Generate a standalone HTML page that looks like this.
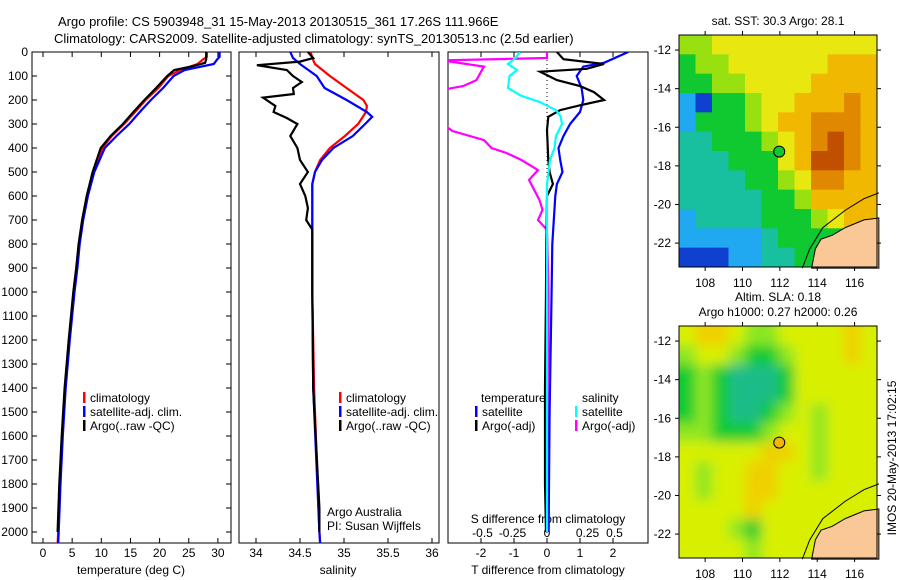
<!DOCTYPE html>
<html><head><meta charset="utf-8"><style>
body{margin:0;background:#fff;}
svg{display:block;font-family:"Liberation Sans",sans-serif;}
text{fill:#000;}
</style></head><body>
<svg id="c" width="900" height="580" viewBox="0 0 900 580" xmlns="http://www.w3.org/2000/svg">
<defs>
<filter id="blur" x="-10%" y="-10%" width="120%" height="120%"><feGaussianBlur stdDeviation="6"/></filter>
</defs>
<text x="58" y="26" font-size="13">Argo profile: CS 5903948_31 15-May-2013 20130515_361 17.26S 111.966E</text>
<text x="54" y="43" font-size="13">Climatology: CARS2009. Satellite-adjusted climatology: synTS_20130513.nc (2.5d earlier)</text>
<g id="g"></g>
</svg>
<script>
// ---- data ----
const depthTicks=[0,100,200,300,400,500,600,700,800,900,1000,1100,1200,1300,1400,1500,1600,1700,1800,1900,2000];
const tempTicks=[0,5,10,15,20,25,30];
const salTicks=[34,34.5,35,35.5,36];
const tdiffTicks=[-2,-1,0,1,2];
const sdiffTickLabels=["-0.5","-0.25","0","0.25","0.5"];
const sdiffTickVals=[-0.43,-0.23,0,0.27,0.45];

const tClimD=[0,20,30,50,75,100,150,200,250,300,350,400,500,600,700,800,900,1000,1200,1400,1600,1800,2000,2050];
const tClim=[28.1,28.1,27.5,26.5,23.5,21.5,19.8,17.6,15.8,13.9,11.8,10.2,8.6,7.6,6.8,6.2,5.8,5.3,4.5,3.8,3.3,2.9,2.6,2.5];
const tSatD=tClimD;
const tSat=[30.3,30.3,29.9,29.3,24.3,22.4,20.6,18.5,16.6,14.8,12.6,10.6,8.8,7.7,6.9,6.3,5.9,5.4,4.6,3.9,3.4,3.0,2.7,2.6];
const tArgoD=[0,30,45,60,75,100,150,200,250,300,350,400,500,600,700,800,900,1000,1200,1400,1600,1800,2000];
const tArgo=[28.0,28.0,27.8,25.5,22.5,21.3,19.4,17.4,15.5,13.7,11.6,9.9,8.5,7.5,6.7,6.1,5.7,5.2,4.4,3.7,3.2,2.8,2.5];

const sClimD=[0,25,50,100,150,200,225,250,300,350,400,450,500,550,700,1000,1400,2000,2050];
const sClim=[34.62,34.64,34.67,34.84,35.03,35.22,35.26,35.25,35.16,35.01,34.84,34.73,34.67,34.64,34.64,34.64,34.66,34.72,34.73];
const sSatD=[0,25,50,100,150,200,250,270,300,350,400,450,500,550,700,1000,1400,2000,2050];
const sSat=[34.39,34.42,34.5,34.69,34.78,35.03,35.26,35.32,35.24,35.1,34.88,34.75,34.67,34.64,34.64,34.64,34.65,34.72,34.73];
const sArgoD=[0,25,40,55,75,100,125,150,175,190,225,250,275,300,350,400,450,500,550,600,650,700,740,1000,1400,1900,2000];
const sArgo=[34.59,34.65,34.5,34.01,34.35,34.42,34.52,34.42,34.43,34.08,34.22,34.2,34.35,34.47,34.39,34.47,34.5,34.59,34.5,34.56,34.59,34.57,34.64,34.64,34.65,34.72,34.72];

const dTSatD=[0,45,61,100,150,200,250,300,350,400,450,500,550,600,800,1000,1500,2000];
const dTSat=[2.46,1.73,1.1,0.9,1.05,1.1,1.0,0.7,0.5,0.35,0.4,0.47,0.3,0.25,0.16,0.14,0.08,0.05];
const dTArgoD=[0,30,50,70,82,117,142,167,200,222,242,270,325,450,500,550,600,800,1000,1400,1800,2000];
const dTArgo=[0.3,0.5,1.73,1.2,-0.21,0.3,1.0,1.42,1.73,1.0,0.4,0.04,0.0,0.04,0.08,0.18,0.0,-0.02,-0.03,-0.06,-0.06,-0.03];
const dSSatD=[0,25,50,75,100,150,183,208,242,267,300,350,400,450,550,1000,2000];
const dSSat=[-0.18,-0.21,-0.26,-0.2,-0.25,-0.26,-0.17,-0.05,0.06,0.09,0.1,0.06,0.05,0.02,0.0,0.0,0.0];
const dSArgoD=[0,25,35,61,82,117,142,158,200,297,329,367,400,421,450,492,533,617,658,700,741,1000,2000];
const dSArgo=[0,0,-0.7,-0.42,-0.44,-0.47,-0.56,-0.7,-0.8,-0.7,-0.63,-0.42,-0.37,-0.27,-0.17,-0.06,-0.12,-0.05,-0.03,-0.06,0,0.01,0.01];

const sstGrid=[
[4,4,5,5,5,5,5,5,5,5,5,5],
[3,4,4,5,5,5,5,5,5,6,6,6],
[3,3,4,4,5,5,5,5,6,6,6,6],
[1,0,3,3,4,5,5,6,6,6,7,6],
[1,3,3,3,4,5,6,6,7,7,7,6],
[2,2,3,3,3,4,5,6,7,8,7,6],
[2,2,2,3,3,3,5,6,8,8,7,6],
[2,2,2,2,3,3,4,5,7,7,6,6],
[2,2,2,2,2,3,3,4,6,6,6,6],
[1,2,2,2,2,3,3,3,4,5,6,6],
[1,1,1,1,1,2,3,3,3,3,3,3],
[0,0,0,1,1,2,2,3,3,3,3,3]];
const slaGrid=[
[3,4,4,3,2,2,3,3,3,3,4,3],
[2,3,3,2,1,1,2,3,3,3,4,3],
[1,2,1,0,0,0,1,3,3,3,3,3],
[1,2,1,0,0,0,1,3,3,3,3,3],
[1,2,1,0,0,1,2,3,2,3,3,3],
[2,2,1,1,1,2,3,3,2,3,3,3],
[3,3,3,3,3,4,4,3,2,3,3,3],
[3,2,3,3,4,4,3,3,2,3,3,3],
[3,2,3,3,4,4,3,3,3,3,3,3],
[3,3,3,3,4,3,3,3,3,3,3,3],
[3,3,3,2,1,3,3,3,3,3,3,3],
[3,3,3,3,2,3,3,3,3,3,3,3]];
const lonTicks=[108,110,112,114,116];
const latTicks=[-12,-14,-16,-18,-20,-22];
const argoLon=111.966, argoLat=-17.26;
const landLon=[117.3,116.5,115.5,114.8,114.2,113.9,113.7,117.3];
const landLat=[-20.7,-20.8,-21.2,-21.6,-21.8,-22.3,-23.3,-23.3];
const contLon=[113.2,113.6,114.3,115.5,116.5,117.3];
const contLat=[-23.3,-22.3,-21.2,-20.3,-19.7,-19.4];

// ---- helpers ----
const NS="http://www.w3.org/2000/svg";
const G=document.getElementById('g');
function mk(tag,at,parent){const e=document.createElementNS(NS,tag);for(const k in at)e.setAttribute(k,at[k]);(parent||G).appendChild(e);return e;}
function txt(x,y,s,anchor,size,parent){const t=mk('text',{x:x,y:y,'font-size':size||12,'text-anchor':anchor||'start'},parent);t.textContent=s;return t;}
const PT=52,PB=543;
const yD=d=>PT+d*0.24;
const xT=t=>43+t*5.83;
const xS=s=>256+(s-34)*88;
const xdT=t=>547+t*33;
const xdS=s=>547+s*150;
const panels=[[32,231,'temperature-panel'],[239,439,'salinity-panel'],[448,648,'difference-panel']];
panels.forEach(p=>{const clipId='clip-'+p[2];const cp=mk('clipPath',{id:clipId});mk('rect',{x:p[0],y:PT,width:p[1]-p[0],height:PB-PT},cp);});

function line(xs,ds,fx,color,name,clip){
  const pts=xs.map((v,i)=>fx(v).toFixed(1)+','+yD(ds[i]).toFixed(1)).join(' ');
  const e=mk('polyline',{points:pts,fill:'none',stroke:color,'stroke-width':2.2,'clip-path':'url(#clip-'+clip+')'});
  
  
}

panels.forEach(p=>{
  const r=mk('rect',{x:p[0],y:PT,width:p[1]-p[0],height:PB-PT,fill:'none',stroke:'#000','stroke-width':1});
  
  
});
depthTicks.forEach(d=>{
  const t=txt(28,yD(d)+4,String(d),'end',12);
  
  
  mk('line',{x1:32,x2:37,y1:yD(d),y2:yD(d),stroke:'#000'});
  mk('line',{x1:226,x2:231,y1:yD(d),y2:yD(d),stroke:'#000'});
});
function xticks(vals,labels,fx,name){
  vals.forEach((v,i)=>{
    const x=fx(v);
    mk('line',{x1:x,x2:x,y1:PT,y2:PT+5,stroke:'#000'});
    mk('line',{x1:x,x2:x,y1:PB,y2:PB-5,stroke:'#000'});
    const t=txt(x,557,labels[i],'middle',12);
    
    
  });
}
xticks(tempTicks,tempTicks.map(String),xT,'temperature-tick-label');
xticks(salTicks,salTicks.map(String),xS,'salinity-tick-label');
xticks(tdiffTicks,tdiffTicks.map(String),xdT,'t-difference-tick-label');
sdiffTickVals.forEach((v,i)=>{
  const t=txt(xdS(v),537,sdiffTickLabels[i],'middle',12);
  
  
});
[['temperature (deg C)',131,'x-axis-title-temperature'],['salinity',338,'x-axis-title-salinity'],['T difference from climatology',548,'x-axis-title-t-difference']].forEach(a=>{
  const t=txt(a[1],574,a[0],'middle',12);
  
  
});
{const t=txt(548,523,'S difference from climatology','middle',12);

}
{const e=mk('line',{x1:547,x2:547,y1:PT,y2:PB,stroke:'#000','stroke-dasharray':'1,3'});

}

line(tClim,tClimD,xT,'#f00','temperature-climatology-line','temperature-panel');
line(tSat,tSatD,xT,'#00f','temperature-satellite-line','temperature-panel');
line(tArgo,tArgoD,xT,'#000','temperature-argo-line','temperature-panel');
line(sClim,sClimD,xS,'#f00','salinity-climatology-line','salinity-panel');
line(sSat,sSatD,xS,'#00f','salinity-satellite-line','salinity-panel');
line(sArgo,sArgoD,xS,'#000','salinity-argo-line','salinity-panel');
line(dSArgo,dSArgoD,xdS,'#f0f','s-diff-argo-line','difference-panel');
line(dTSat,dTSatD,xdT,'#00f','t-diff-satellite-line','difference-panel');
line(dTArgo,dTArgoD,xdT,'#000','t-diff-argo-line','difference-panel');
line(dSSat,dSSatD,xdS,'#0ff','s-diff-satellite-line','difference-panel');

function leg(x,y,color,label){
  const g=mk('g',{});
  
  
  mk('rect',{x:x,y:y-10,width:2.5,height:11,fill:color},g);
  txt(x+7,y,label,'start',12,g);
}
const legLabels=['climatology','satellite-adj. clim.','Argo(..raw -QC)'];
const legColors=['#f00','#00f','#000'];
[83,339].forEach(x=>legLabels.forEach((l,i)=>leg(x,402+i*14,legColors[i],l)));
{const t=txt(481,402,'temperature');}
{const t=txt(582,402,'salinity');}
leg(475,416,'#00f','satellite');leg(475,430,'#000','Argo(-adj)');
leg(575,416,'#0ff','satellite');leg(575,430,'#f0f','Argo(-adj)');
{const t=txt(327,516,'Argo Australia');}
{const t=txt(327,530,'PI: Susan Wijffels');}

// maps
const sstColors=['#1040d0','#20a8f0','#18c0a0','#10c830','#98e010','#e8e810','#f0b800','#e08800','#c05000'];
const slaColors=['#1cbc88','#10cc30','#8ee620','#d8f000','#f0d000'];
const LON0=106.6,LON1=117.2;
function drawMap(top,grid,colors,name,title,dotFill,smooth){
  const L=679,R=877,H=232,B=top+H;
  const latTop=-11.22,latBot=-23.24;
  const mx=lon=>L+(lon-LON0)/(LON1-LON0)*(R-L);
  const my=lat=>top+(lat-latTop)/(latBot-latTop)*H;
  const g=mk('g',{});
  
  
  const cp=mk('clipPath',{id:'clip-'+name});
  mk('rect',{x:L,y:top,width:R-L,height:H},cp);
  const cells=mk('g',{'clip-path':'url(#clip-'+name+')'},g);
  const inner=mk('g',smooth?{filter:'url(#blur)'}:{},cells);
  const cw=(R-L)/grid[0].length,ch=H/grid.length;
  const nr=grid.length,nc=grid[0].length;
  grid.forEach((row,r)=>row.forEach((v,c)=>{
    const ext=smooth?20:0;
    const x0=L+c*cw-(c===0?ext:0), y0=top+r*ch-(r===0?ext:0);
    const w=cw+0.5+(c===0?ext:0)+(c===nc-1?ext:0), h=ch+0.5+(r===0?ext:0)+(r===nr-1?ext:0);
    const e=mk('rect',{x:x0,y:y0,width:w,height:h,fill:colors[v]},inner);
    
    
  }));
  const land=mk('polygon',{points:landLon.map((v,i)=>mx(v)+','+my(landLat[i])).join(' '),fill:'#f9c896',stroke:'#000','stroke-width':1},g);
  
  
  const cont=mk('polyline',{points:contLon.map((v,i)=>mx(v)+','+my(contLat[i])).join(' '),fill:'none',stroke:'#000','stroke-width':1},g);
  
  
  mk('rect',{x:L,y:top,width:R-L,height:H,fill:'none',stroke:'#000'},g);
  lonTicks.forEach(v=>{mk('line',{x1:mx(v),x2:mx(v),y1:top,y2:top-4,stroke:'#000'},g);mk('line',{x1:mx(v),x2:mx(v),y1:B,y2:B+4,stroke:'#000'},g);
    const t=txt(mx(v),B+20,String(v),'middle',12,g);});
  latTicks.forEach(v=>{mk('line',{x1:L,x2:L-4,y1:my(v),y2:my(v),stroke:'#000'},g);mk('line',{x1:R,x2:R+4,y1:my(v),y2:my(v),stroke:'#000'},g);
    const t=txt(L-8,my(v)+4,String(v),'end',12,g);});
  const d=mk('circle',{cx:mx(argoLon),cy:my(argoLat),r:5.5,fill:dotFill,stroke:'#000'},g);
  
  
  const n=title.length;
  title.forEach((s,i)=>{const t=txt(778,top-10-(n-1-i)*15,s,'middle',12,g);});
}
drawMap(35,sstGrid,sstColors,'sst-map',['sat. SST: 30.3 Argo: 28.1'],'#10c830',false);
drawMap(326,slaGrid,slaColors,'sla-map',['Altim. SLA: 0.18','Argo h1000: 0.27 h2000: 0.26'],'#f0b800',true);
{const t=txt(0,0,'IMOS 20-May-2013 17:02:15','middle',12);
t.setAttribute('transform','translate(896,458) rotate(-90)');

}
</script>
</body></html>
